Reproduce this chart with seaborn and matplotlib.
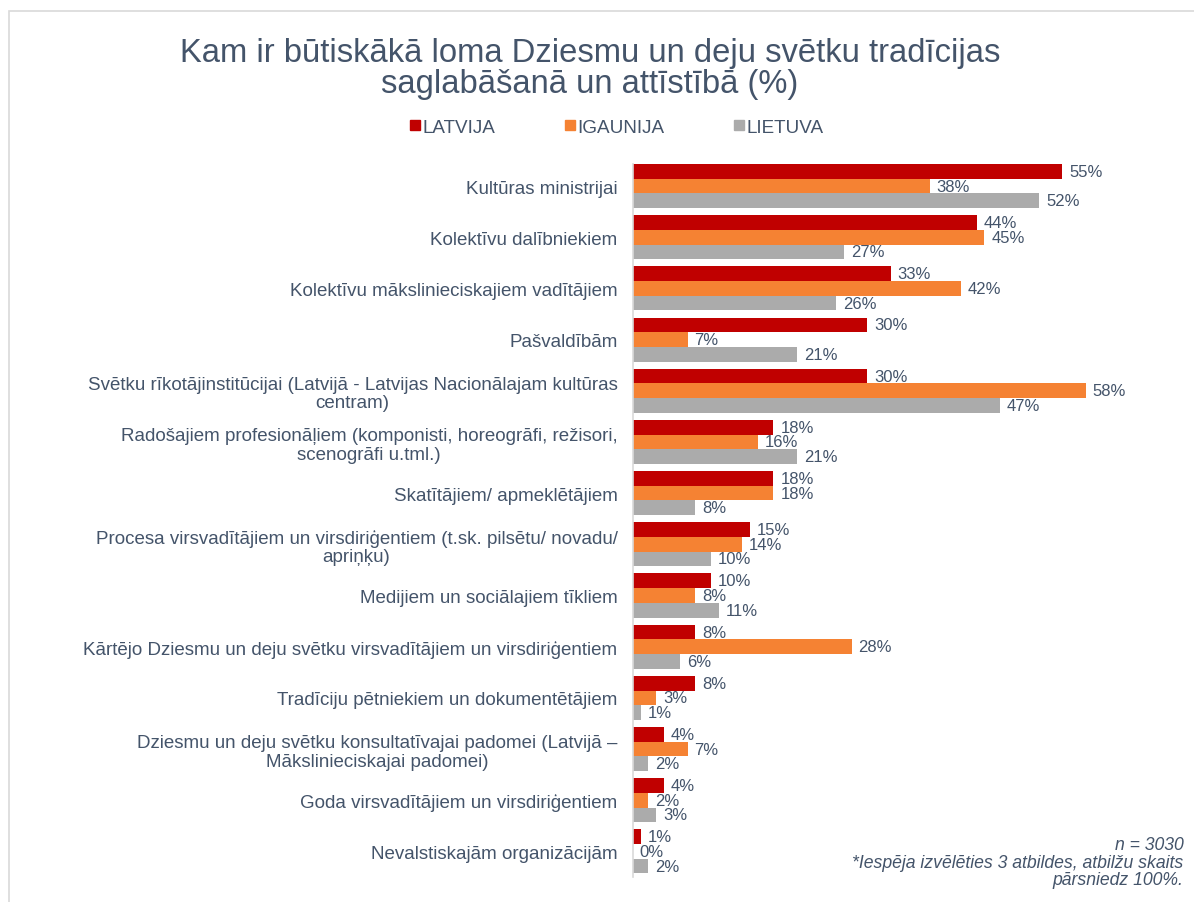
import pandas as pd
import matplotlib
matplotlib.use("Agg")
import matplotlib.pyplot as plt
import seaborn as sns
from matplotlib.lines import Line2D
from matplotlib.patches import Rectangle

# data
categories = [
    "Kultūras ministrijai",
    "Kolektīvu dalībniekiem",
    "Kolektīvu mākslinieciskajiem vadītājiem",
    "Pašvaldībām",
    "Svētku rīkotājinstitūcijai (Latvijā - Latvijas Nacionālajam kultūras\ncentram)",
    "Radošajiem profesionāļiem (komponisti, horeogrāfi, režisori,\nscenogrāfi u.tml.)",
    "Skatītājiem/ apmeklētājiem",
    "Procesa virsvadītājiem un virsdiriģentiem (t.sk. pilsētu/ novadu/\napriņķu)",
    "Medijiem un sociālajiem tīkliem",
    "Kārtējo Dziesmu un deju svētku virsvadītājiem un virsdiriģentiem",
    "Tradīciju pētniekiem un dokumentētājiem",
    "Dziesmu un deju svētku konsultatīvajai padomei (Latvijā –\nMākslinieciskajai padomei)",
    "Goda virsvadītājiem un virsdiriģentiem",
    "Nevalstiskajām organizācijām",
]
countries = ["LATVIJA", "IGAUNIJA", "LIETUVA"]
latvija = [55, 44, 33, 30, 30, 18, 18, 15, 10, 8, 8, 4, 4, 1]
igaunija = [38, 45, 42, 7, 58, 16, 18, 14, 8, 28, 3, 7, 2, 0]
lietuva = [52, 27, 26, 21, 47, 21, 8, 10, 11, 6, 1, 2, 3, 2]
colors = ["#C00000", "#F58233", "#ABABAB"]

title = "Kam ir būtiskākā loma Dziesmu un deju svētku tradīcijas\nsaglabāšanā un attīstībā (%)"
note = "n = 3030\n*Iespēja izvēlēties 3 atbildes, atbilžu skaits\npārsniedz 100%."

text_color = "#44546A"

df = pd.DataFrame({
    "category": categories * 3,
    "country": [countries[0]] * 14 + [countries[1]] * 14 + [countries[2]] * 14,
    "value": latvija + igaunija + lietuva,
})

sns.set_style("white")
plt.rcParams["font.family"] = ["Liberation Sans", "DejaVu Sans"]

fig = plt.figure(figsize=(11.94, 9.03), dpi=100)
ax = fig.add_axes([0.530, 0.0277, 0.458, 0.7895])

sns.barplot(data=df, x="value", y="category", hue="country", order=categories,
            hue_order=countries, palette=colors, width=0.86, saturation=1,
            orient="h", ax=ax, legend=False, linewidth=0)

for cont in ax.containers:
    vals = cont.datavalues
    ax.bar_label(cont, labels=[f"{v:.0f}%" for v in vals], padding=5,
                 fontsize=12, color=text_color)

ax.set_xlim(0, 70)
ax.set_ylim(13.5, -0.43)
ax.set_xlabel("")
ax.set_ylabel("")
ax.set_xticks([])
ax.tick_params(axis="y", length=0, pad=11)
for lbl in ax.get_yticklabels():
    lbl.set_fontsize(13.5)
    lbl.set_color(text_color)
    lbl.set_multialignment("center")
    lbl.set_linespacing(1.12)
for s in ["top", "right", "bottom"]:
    ax.spines[s].set_visible(False)
ax.spines["left"].set_color("#D9D9D9")
ax.spines["left"].set_linewidth(1.2)

fig.text(0.494, 0.924, title, ha="center", va="center", fontsize=23.6,
         color=text_color, linespacing=1.0)

handles = [Line2D([], [], marker="s", linestyle="", markersize=6.5,
                  markerfacecolor=c, markeredgecolor=c) for c in colors]
fig.legend(handles, countries, loc="center", bbox_to_anchor=(0.516, 0.858),
           ncol=3, frameon=False, fontsize=13.6, handletextpad=0.05,
           columnspacing=3.6, labelcolor=text_color, handlelength=0.7)

fig.text(0.991, 0.044, note, ha="right", va="center", fontsize=12.7,
         style="italic", color=text_color, linespacing=1.05)

fig.patches.append(Rectangle((9 / 1194, -0.1), 1.2, 1 - 12 / 903 + 0.1,
                             transform=fig.transFigure, fill=False,
                             edgecolor="#D9D9D9", linewidth=1.2))

fig.savefig("out.png", dpi=100)
